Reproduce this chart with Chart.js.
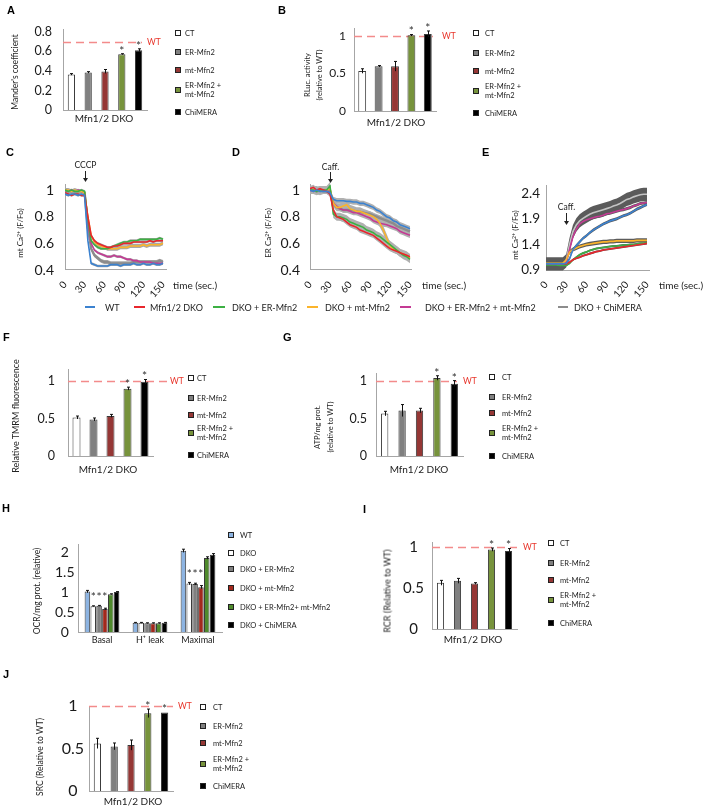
<!DOCTYPE html>
<html>
<head>
<meta charset="utf-8">
<script src="https://cdn.jsdelivr.net/npm/chart.js@4.4.1/dist/chart.umd.min.js"></script>
<style>
  body { margin: 0; background: #fff; }
  #fig { position: relative; width: 709px; height: 808px; overflow: hidden; font-family: Lato, "Liberation Sans", Arial, sans-serif; color: #222; }
  #fig canvas { position: absolute; left: 0; top: 0; }
  .t { position: absolute; white-space: nowrap; line-height: 1; }
  .l { transform: translate(0, -50%); }
  .c { transform: translate(-50%, -50%); text-align: center; }
  .r { transform: translate(-50%, -50%) rotate(-90deg); text-align: center; }
  .letter { font-family: "Liberation Sans", Arial, sans-serif; font-weight: bold; font-size: 11px; color: #000; }
  .box { position: absolute; width: 4px; height: 4px; border: 1px solid #222; }
  .seg { position: absolute; height: 2px; }
  sup { font-size: 0.65em; vertical-align: 0.45em; line-height: 0; }
</style>
</head>
<body>
<div id="fig"></div>
<script>
// ---- bar panels (A, B, F, G, I, J) ----
const barGroups = ['CT', 'ER-Mfn2', 'mt-Mfn2', 'ER-Mfn2 + mt-Mfn2', 'ChiMERA'];
const barColors = ['#ffffff', '#808080', '#953735', '#77933c', '#000000'];

const valsA = [0.365, 0.385, 0.395, 0.572, 0.612];
const errA = [0.008, 0.008, 0.02, 0.005, 0.015];
const starsA = ['', '', '', '*', '*'];
const ticksA = [0, 0.2, 0.4, 0.6, 0.8];
const wtA = 0.7;

const valsB = [0.533, 0.596, 0.596, 1.009, 1.027];
const errB = [0.03, 0.01, 0.065, 0.01, 0.04];
const starsB = ['', '', '', '*', '*'];
const ticksB = [0, 0.5, 1];

const valsF = [0.513, 0.487, 0.535, 0.898, 0.99];
const errF = [0.02, 0.02, 0.02, 0.02, 0.03];
const starsF = ['', '', '', '*', '*'];
const ticksF = [0, 0.5, 1];

const valsG = [0.566, 0.606, 0.606, 1.04, 0.965];
const errG = [0.03, 0.08, 0.03, 0.03, 0.04];
const starsG = ['', '', '', '*', '*'];
const ticksG = [0, 0.5, 1];

const valsI = [0.563, 0.587, 0.555, 0.968, 0.951];
const errI = [0.03, 0.03, 0.01, 0.02, 0.03];
const starsI = ['', '', '', '*', '*'];
const ticksI = [0, 0.5, 1];

const valsJ = [0.56, 0.525, 0.54, 0.914, 0.925];
const errJ = [0.06, 0.04, 0.06, 0.05, 0.0];
const starsJ = ['', '', '', '*', '*'];
const ticksJ = [0, 0.5, 1];

// ---- H: OCR grouped bars ----
const groupsH = ['Basal', 'H\u207A leak', 'Maximal'];
const seriesH = ['WT', 'DKO', 'DKO + ER-Mfn2', 'DKO + mt-Mfn2', 'DKO + ER-Mfn2+ mt-Mfn2', 'DKO + ChiMERA'];
const colorsH = ['#8db4e2', '#ffffff', '#808080', '#a3281c', '#4f8a2c', '#000000'];
const wtH = [1.01, 0.23, 2.03];
const dkoH = [0.645, 0.23, 1.21];
const erH = [0.655, 0.22, 1.2];
const mtH = [0.575, 0.22, 1.12];
const bothH = [0.945, 0.22, 1.85];
const chiH = [1.0, 0.23, 1.93];
const errH = [[0.03, 0.01, 0.04], [0.01, 0.01, 0.03], [0.01, 0.01, 0.02], [0.02, 0.01, 0.04], [0.01, 0.01, 0.03], [0.01, 0.01, 0.03]];
const starsH = ['*', '', '*'];
const ticksH = [0, 0.5, 1, 1.5, 2];

// ---- C, D, E: time courses ----
const times = [0, 5, 10, 15, 20, 25, 30, 35, 40, 45, 50, 55, 60, 65, 70, 75, 80, 85, 90, 95, 100, 105, 110, 115, 120, 125, 130, 135, 140, 145, 150];
const lineSeries = ['WT', 'Mfn1/2 DKO', 'DKO + ER-Mfn2', 'DKO + mt-Mfn2', 'DKO + ER-Mfn2 + mt-Mfn2', 'DKO + ChiMERA'];
const lineColors = ['#3b82d0', '#e8262d', '#3cb043', '#fbb42b', '#c43a94', '#8c8c8c'];
const timeTicks = [0, 30, 60, 90, 120, 150];

const wtC   = [0.97, 0.96, 0.97, 0.97, 0.96, 0.97, 0.96, 0.62, 0.45, 0.44, 0.43, 0.43, 0.43, 0.43, 0.44, 0.44, 0.44, 0.43, 0.44, 0.44, 0.44, 0.45, 0.44, 0.44, 0.45, 0.44, 0.44, 0.45, 0.44, 0.44, 0.45];
const dkoC  = [0.98, 0.97, 0.96, 0.97, 0.97, 0.96, 0.96, 0.8, 0.66, 0.62, 0.6, 0.59, 0.58, 0.57, 0.57, 0.58, 0.58, 0.59, 0.6, 0.6, 0.6, 0.61, 0.61, 0.61, 0.61, 0.61, 0.62, 0.61, 0.62, 0.62, 0.62];
const erC   = [1.0, 0.99, 1.0, 0.99, 0.99, 1.0, 0.99, 0.78, 0.62, 0.59, 0.57, 0.56, 0.56, 0.56, 0.57, 0.58, 0.59, 0.6, 0.61, 0.61, 0.62, 0.62, 0.62, 0.63, 0.63, 0.63, 0.63, 0.63, 0.63, 0.64, 0.63];
const mtC   = [1.0, 1.0, 0.99, 1.0, 0.99, 0.99, 0.98, 0.8, 0.66, 0.61, 0.59, 0.58, 0.57, 0.56, 0.56, 0.56, 0.56, 0.57, 0.57, 0.57, 0.58, 0.58, 0.58, 0.58, 0.59, 0.58, 0.59, 0.59, 0.59, 0.59, 0.6];
const bothC = [1.0, 0.99, 1.0, 0.99, 1.0, 0.99, 0.98, 0.75, 0.6, 0.55, 0.53, 0.52, 0.51, 0.5, 0.5, 0.51, 0.5, 0.5, 0.49, 0.48, 0.48, 0.47, 0.47, 0.46, 0.46, 0.46, 0.46, 0.45, 0.45, 0.45, 0.45];
const chiC  = [0.99, 0.99, 0.99, 0.99, 0.99, 0.99, 0.98, 0.72, 0.56, 0.51, 0.49, 0.47, 0.46, 0.46, 0.45, 0.45, 0.45, 0.45, 0.45, 0.45, 0.45, 0.46, 0.46, 0.46, 0.46, 0.46, 0.46, 0.46, 0.46, 0.47, 0.46];
const semC  = [0.01, 0.01, 0.01, 0.015, 0.01, 0.015];

const wtD   = [1.0, 0.99, 1.0, 0.99, 0.99, 0.99, 0.98, 0.93, 0.92, 0.92, 0.92, 0.915, 0.915, 0.91, 0.91, 0.9, 0.9, 0.89, 0.88, 0.87, 0.85, 0.84, 0.82, 0.8, 0.79, 0.77, 0.76, 0.74, 0.73, 0.72, 0.71];
const dkoD  = [1.01, 1.02, 1.0, 1.01, 1.0, 0.99, 0.97, 0.85, 0.8, 0.79, 0.78, 0.76, 0.74, 0.73, 0.72, 0.7, 0.69, 0.68, 0.67, 0.66, 0.64, 0.62, 0.6, 0.58, 0.56, 0.55, 0.54, 0.53, 0.52, 0.51, 0.5];
const erD   = [1.0, 1.0, 0.99, 1.0, 1.0, 1.0, 1.03, 0.82, 0.8, 0.8, 0.79, 0.78, 0.76, 0.75, 0.74, 0.73, 0.72, 0.7, 0.69, 0.68, 0.66, 0.65, 0.63, 0.61, 0.59, 0.57, 0.55, 0.53, 0.51, 0.5, 0.48];
const mtD   = [1.0, 1.0, 1.0, 0.99, 1.0, 1.0, 1.01, 0.9, 0.87, 0.87, 0.88, 0.89, 0.86, 0.85, 0.84, 0.84, 0.83, 0.82, 0.81, 0.8, 0.78, 0.75, 0.7, 0.64, 0.58, 0.56, 0.55, 0.53, 0.52, 0.51, 0.49];
const bothD = [1.0, 0.99, 1.0, 0.99, 1.0, 0.99, 0.99, 0.9, 0.88, 0.86, 0.85, 0.85, 0.84, 0.83, 0.83, 0.82, 0.81, 0.8, 0.79, 0.77, 0.76, 0.75, 0.745, 0.74, 0.73, 0.72, 0.71, 0.69, 0.68, 0.67, 0.66];
const chiD  = [1.0, 1.0, 0.99, 1.0, 0.99, 0.99, 0.99, 0.9, 0.87, 0.86, 0.85, 0.85, 0.85, 0.845, 0.84, 0.835, 0.83, 0.825, 0.82, 0.81, 0.8, 0.79, 0.78, 0.77, 0.76, 0.75, 0.73, 0.72, 0.71, 0.7, 0.69];
const semD  = [0.02, 0.02, 0.03, 0.03, 0.02, 0.02];

const wtE   = [1.02, 1.02, 1.02, 1.02, 1.02, 1.02, 1.03, 1.12, 1.3, 1.38, 1.45, 1.52, 1.57, 1.63, 1.68, 1.72, 1.76, 1.8, 1.83, 1.86, 1.88, 1.9, 1.93, 1.96, 1.98, 2.01, 2.05, 2.09, 2.12, 2.15, 2.18];
const dkoE  = [1.02, 1.02, 1.02, 1.02, 1.02, 1.02, 1.02, 1.05, 1.1, 1.13, 1.15, 1.18, 1.2, 1.22, 1.24, 1.26, 1.27, 1.29, 1.3, 1.31, 1.32, 1.33, 1.34, 1.35, 1.36, 1.37, 1.38, 1.39, 1.4, 1.41, 1.42];
const erE   = [1.0, 1.0, 1.0, 1.0, 0.99, 0.99, 0.99, 1.03, 1.1, 1.15, 1.2, 1.23, 1.25, 1.28, 1.3, 1.32, 1.33, 1.34, 1.35, 1.36, 1.37, 1.37, 1.38, 1.39, 1.39, 1.4, 1.4, 1.41, 1.42, 1.42, 1.43];
const mtE   = [1.03, 1.03, 1.03, 1.03, 1.03, 1.03, 1.1, 1.25, 1.3, 1.33, 1.36, 1.38, 1.4, 1.41, 1.42, 1.43, 1.44, 1.45, 1.45, 1.46, 1.46, 1.47, 1.47, 1.47, 1.47, 1.47, 1.47, 1.48, 1.48, 1.48, 1.48];
const bothE = [1.02, 1.02, 1.02, 1.02, 1.02, 1.02, 1.05, 1.3, 1.55, 1.7, 1.8, 1.85, 1.88, 1.9, 1.92, 1.94, 1.95, 1.97, 2.0, 2.01, 2.03, 2.05, 2.07, 2.08, 2.1, 2.12, 2.15, 2.17, 2.2, 2.21, 2.22];
const chiE  = [1.02, 1.02, 1.02, 1.02, 1.02, 1.02, 1.08, 1.4, 1.65, 1.78, 1.86, 1.91, 1.95, 1.99, 2.02, 2.04, 2.06, 2.08, 2.1, 2.12, 2.15, 2.17, 2.2, 2.24, 2.28, 2.3, 2.33, 2.35, 2.37, 2.38, 2.38];
const semE  = [0.03, 0.02, 0.02, 0.04, 0.03, 0.13];

// ---------------------------------------------------------------
const W = 709, H = 808;
const AX = '#a6a6a6';
const FONT = 'Lato, "Liberation Sans", Arial, sans-serif';
Chart.defaults.font.family = FONT;
const fig = document.getElementById('fig');

function addCanvas() {
    const c = document.createElement('canvas');
    c.width = W; c.height = H;
    fig.appendChild(c);
    return c;
}

// every canvas covers the whole figure, padding puts the plot area in place
function pad(box, yw, xh) {
    return { left: box.l - yw, top: box.t, right: W - box.r, bottom: H - box.b - xh };
}

function put(html, x, y, cls, css) {
    const d = document.createElement('div');
    d.className = 't ' + (cls || 'l');
    d.innerHTML = html;
    d.style.left = x + 'px';
    d.style.top = y + 'px';
    Object.assign(d.style, css || {});
    fig.appendChild(d);
    return d;
}

// plugins
const wtLine = {
    id: 'wtLine',
    beforeDatasetsDraw(chart, args, o) {
        const ctx = chart.ctx, y = Math.round(chart.scales.y.getPixelForValue(o.value)) + 0.5;
        ctx.save();
        ctx.strokeStyle = '#f38b8b';
        ctx.lineWidth = 1.5;
        ctx.setLineDash([8, 5]);
        ctx.beginPath();
        ctx.moveTo(chart.chartArea.left, y);
        ctx.lineTo(o.end, y);
        ctx.stroke();
        ctx.restore();
    }
};

const errorBars = {
    id: 'errorBars',
    afterDatasetsDraw(chart) {
        const ctx = chart.ctx, ys = chart.scales.y;
        chart.data.datasets.forEach((ds, di) => {
            if (!ds.errs) return;
            const meta = chart.getDatasetMeta(di);
            ctx.save();
            ctx.strokeStyle = '#111';
            ctx.lineWidth = 1;
            meta.data.forEach((bar, i) => {
                const e = ds.errs[i];
                if (!e) return;
                const x = Math.round(bar.x) + 0.5;
                const y1 = ys.getPixelForValue(ds.data[i] + e), y2 = ys.getPixelForValue(ds.data[i] - e);
                ctx.beginPath();
                ctx.moveTo(x, y1); ctx.lineTo(x, y2);
                ctx.moveTo(x - 1.5, y1); ctx.lineTo(x + 1.5, y1);
                ctx.stroke();
            });
            ctx.restore();
        });
    }
};

// stars of one category sit on one row, above the highest starred bar
const starMarks = {
    id: 'starMarks',
    afterDatasetsDraw(chart) {
        const ctx = chart.ctx, ys = chart.scales.y;
        const sets = chart.data.datasets;
        const rowTop = {};
        sets.forEach(ds => {
            if (!ds.stars) return;
            ds.stars.forEach((s, i) => {
                if (!s) return;
                const top = ys.getPixelForValue(ds.data[i] + (ds.errs ? ds.errs[i] : 0));
                rowTop[i] = Math.min(rowTop[i] === undefined ? Infinity : rowTop[i], top);
            });
        });
        ctx.save();
        ctx.fillStyle = '#333';
        ctx.font = '12px ' + FONT;
        ctx.textAlign = 'center';
        ctx.textBaseline = 'middle';
        sets.forEach((ds, di) => {
            if (!ds.stars) return;
            const meta = chart.getDatasetMeta(di);
            meta.data.forEach((bar, i) => {
                if (!ds.stars[i]) return;
                ctx.fillText(ds.stars[i], bar.x, rowTop[i] - ds.starGap);
            });
        });
        ctx.restore();
    }
};

const bands = {
    id: 'bands',
    beforeDatasetsDraw(chart, args, o) {
        const ctx = chart.ctx, xs = chart.scales.x, ys = chart.scales.y, lab = chart.data.labels;
        ctx.save();
        ctx.fillStyle = o.color;
        chart.data.datasets.forEach(ds => {
            ctx.beginPath();
            ds.data.forEach((v, i) => {
                const px = xs.getPixelForValue(lab[i]), py = ys.getPixelForValue(v + ds.sem);
                if (i) ctx.lineTo(px, py); else ctx.moveTo(px, py);
            });
            for (let i = ds.data.length - 1; i >= 0; i--) {
                ctx.lineTo(xs.getPixelForValue(lab[i]), ys.getPixelForValue(ds.data[i] - ds.sem));
            }
            ctx.closePath();
            ctx.fill();
        });
        ctx.restore();
    }
};

const mark = {
    id: 'mark',
    afterDatasetsDraw(chart, args, o) {
        const ctx = chart.ctx, px = Math.round(chart.scales.x.getPixelForValue(o.at)) + 0.5;
        ctx.save();
        ctx.fillStyle = '#222';
        ctx.strokeStyle = '#222';
        ctx.lineWidth = 1;
        ctx.font = '8.5px ' + FONT;
        ctx.textAlign = 'center';
        ctx.textBaseline = 'middle';
        ctx.fillText(o.label, px, o.textY);
        ctx.beginPath();
        ctx.moveTo(px, o.y1);
        ctx.lineTo(px, o.y2 - 3);
        ctx.stroke();
        ctx.beginPath();
        ctx.moveTo(px - 2.5, o.y2 - 4);
        ctx.lineTo(px + 2.5, o.y2 - 4);
        ctx.lineTo(px, o.y2);
        ctx.closePath();
        ctx.fill();
        ctx.restore();
    }
};

const noGrid = { display: false, drawTicks: false };

function yScale(p, yw) {
    return {
        min: p.min || 0, max: p.max,
        grid: noGrid,
        border: { color: AX },
        ticks: {
            color: '#1a1a1a', font: { size: p.tickSize }, padding: p.tickPad,
            crossAlign: p.align || 'near', callback: v => String(v)
        },
        afterBuildTicks: s => { s.ticks = p.ticks.map(v => ({ value: v })); },
        afterFit: s => { s.width = yw; }
    };
}

function barChart(p) {
    const YW = 40, XH = 6;
    return new Chart(addCanvas(), {
        type: 'bar',
        data: {
            labels: barGroups,
            datasets: [{
                data: p.vals, errs: p.errs, stars: p.stars, starGap: 3,
                backgroundColor: barColors, borderColor: '#3a3a3a', borderWidth: 1,
                barPercentage: p.barPct, categoryPercentage: 1
            }]
        },
        options: {
            responsive: false, animation: false, events: [],
            layout: { padding: pad(p.box, YW, XH) },
            plugins: { legend: { display: false }, tooltip: { enabled: false }, wtLine: { value: p.wt, end: p.wtEnd } },
            scales: {
                x: { grid: noGrid, border: { color: AX }, ticks: { display: false }, afterFit: s => { s.height = XH; } },
                y: yScale(p, YW)
            }
        },
        plugins: [wtLine, errorBars, starMarks]
    });
}

function lineChart(p) {
    const YW = 40, XH = 30;
    return new Chart(addCanvas(), {
        type: 'line',
        data: {
            labels: times,
            datasets: p.series.map((s, i) => ({
                data: s, sem: p.sem[i], borderColor: p.colors[i], borderWidth: p.widths[i],
                pointRadius: 0, tension: 0, fill: false
            }))
        },
        options: {
            responsive: false, animation: false, events: [],
            layout: { padding: pad(p.box, YW, XH) },
            plugins: { legend: { display: false }, tooltip: { enabled: false }, bands: { color: p.band }, mark: p.mark },
            scales: {
                x: {
                    type: 'linear', min: 0, max: p.xmax,
                    grid: noGrid, border: { color: AX },
                    ticks: { color: '#1a1a1a', font: { size: 10 }, padding: 9, callback: v => String(v) },
                    afterBuildTicks: s => { s.ticks = timeTicks.map(v => ({ value: v })); },
                    afterFit: s => { s.height = XH; }
                },
                y: yScale(p, YW)
            }
        },
        plugins: [bands, mark]
    });
}

// ---- panels ----
barChart({ vals: valsA, errs: errA, stars: starsA, ticks: ticksA, max: 0.83, wt: wtA, wtEnd: 142,
    box: { l: 63, r: 147, t: 29, b: 110 }, barPct: 0.43, tickSize: 12.5, tickPad: 11 });
barChart({ vals: valsB, errs: errB, stars: starsB, ticks: ticksB, max: 1.1, wt: 1, wtEnd: 433,
    box: { l: 354, r: 436, t: 28.5, b: 111 }, barPct: 0.48, tickSize: 12, tickPad: 8 });
barChart({ vals: valsF, errs: errF, stars: starsF, ticks: ticksF, max: 1.15, wt: 1, wtEnd: 167,
    box: { l: 68, r: 153, t: 369.75, b: 456 }, barPct: 0.47, tickSize: 12.5, tickPad: 13 });
barChart({ vals: valsG, errs: errG, stars: starsG, ticks: ticksG, max: 1.1, wt: 1, wtEnd: 457,
    box: { l: 376, r: 463, t: 373.5, b: 456 }, barPct: 0.42, tickSize: 12.5, tickPad: 9 });
barChart({ vals: valsI, errs: errI, stars: starsI, ticks: ticksI, max: 1.05, wt: 1, wtEnd: 517,
    box: { l: 432, r: 517, t: 542.9, b: 629 }, barPct: 0.42, tickSize: 15, tickPad: 8, align: 'center' });
barChart({ vals: valsJ, errs: errJ, stars: starsJ, ticks: ticksJ, max: 1.0, wt: 1, wtEnd: 173,
    box: { l: 89, r: 173, t: 706, b: 791 }, barPct: 0.43, tickSize: 16, tickPad: 5, align: 'center' });

// H grouped
(function () {
    const YW = 40, XH = 22;
    const box = { l: 78, r: 222, t: 544.8, b: 632 };
    const vals = [wtH, dkoH, erH, mtH, bothH, chiH];
    new Chart(addCanvas(), {
        type: 'bar',
        data: {
            labels: groupsH,
            datasets: vals.map((v, i) => ({
                label: seriesH[i], data: v, errs: errH[i],
                stars: (i >= 1 && i <= 3) ? starsH : null, starGap: 8,
                backgroundColor: colorsH[i], borderColor: '#3a3a3a', borderWidth: 1,
                barPercentage: 0.95, categoryPercentage: 0.73
            }))
        },
        options: {
            responsive: false, animation: false, events: [],
            layout: { padding: pad(box, YW, XH) },
            plugins: { legend: { display: false }, tooltip: { enabled: false } },
            scales: {
                x: { grid: noGrid, border: { color: AX },
                     ticks: { color: '#1a1a1a', font: { size: 9 }, padding: 3, maxRotation: 0, autoSkip: false },
                     afterFit: s => { s.height = XH; } },
                y: yScale({ ticks: ticksH, max: 2.18, tickSize: 14, tickPad: 3.5, align: 'center' }, YW)
            }
        },
        plugins: [errorBars, starMarks]
    });
})();

const lineWidthsCD = [1.6, 1.6, 1.6, 1.6, 1.6, 2.4];
lineChart({ series: [wtC, dkoC, erC, mtC, bothC, chiC], sem: semC, colors: lineColors, widths: lineWidthsCD,
    band: '#a8a8a8', box: { l: 65, r: 166.3, t: 184.7, b: 270 }, xmax: 155, min: 0.4, max: 1.04,
    ticks: [0.4, 0.6, 0.8, 1], tickSize: 14, tickPad: 11,
    mark: { at: 30, label: 'CCCP', textY: 165, y1: 171, y2: 182 } });
lineChart({ series: [wtD, dkoD, erD, mtD, bothD, chiD], sem: semD, colors: lineColors, widths: lineWidthsCD,
    band: '#b0b0b0', box: { l: 310, r: 411.3, t: 184.7, b: 270 }, xmax: 152, min: 0.4, max: 1.04,
    ticks: [0.4, 0.6, 0.8, 1], tickSize: 14, tickPad: 10,
    mark: { at: 30, label: 'Caff.', textY: 167, y1: 172, y2: 183 } });
lineChart({ series: [wtE, dkoE, erE, mtE, bothE, chiE], sem: semE,
    colors: ['#3b82d0', '#e8262d', '#3cb043', '#fbb42b', '#c43a94', '#c4c4c4'], widths: [1.6, 1.6, 1.6, 1.6, 1.6, 1.6],
    band: '#5b5b5b', box: { l: 546, r: 649, t: 185.1, b: 270 }, xmax: 153, min: 0.9, max: 2.56,
    ticks: [0.9, 1.4, 1.9, 2.4], tickSize: 13.5, tickPad: 6,
    mark: { at: 30, label: 'Caff.', textY: 207, y1: 213, y2: 225 } });

// ---- text: letters, titles, legends ----
[['A', 7, 9.5], ['B', 278, 9.5], ['C', 6, 152], ['D', 232, 152], ['E', 482, 152],
 ['F', 3, 336.5], ['G', 283, 336.5], ['H', 2, 507.5], ['I', 363, 509], ['J', 3, 673.5]]
    .forEach(([s, x, y]) => put(s, x, y, 'l letter'));

put("Mander's coefficient", 15, 72, 'r', { fontSize: '8.5px' });
put('RLuc. activity<br>(relative to WT)', 314, 75, 'r', { fontSize: '7.5px', lineHeight: '12px' });
put('mt Ca<sup>2+</sup> (F/Fo)', 20, 233, 'r', { fontSize: '8px' });
put('ER Ca<sup>2+</sup> (F/Fo)', 268, 233, 'r', { fontSize: '8px' });
put('mt Ca<sup>2+</sup> (F/Fo)', 515, 235, 'r', { fontSize: '8px' });
put('Relative TMRM fluorescence', 15, 416, 'r', { fontSize: '9px' });
put('ATP/mg prot.<br>(relative to WT)', 324, 427, 'r', { fontSize: '7.5px', lineHeight: '13px' });
put('OCR/mg prot. (relative)', 37, 591, 'r', { fontSize: '8.5px' });
put('RCR (Relative to WT)', 387, 591, 'r', { fontSize: '9px' });
put('SRC (Relative to WT)', 40, 757, 'r', { fontSize: '8.5px' });

[[104, 118], [396, 122], [108, 469], [419, 469], [473, 639], [133, 801]]
    .forEach(([x, y]) => put('Mfn1/2 DKO', x, y, 'c', { fontSize: '10px' }));
[[173, 285], [422, 285], [659, 285]]
    .forEach(([x, y]) => put('time (sec.)', x, y, 'l', { fontSize: '10px' }));
[[147, 41.5], [442, 36], [170, 381], [463, 381], [523, 547], [178, 706]]
    .forEach(([x, y]) => put('WT', x, y, 'l', { fontSize: '8.5px', color: '#e8352b' }));

function barLegend(bx, tx, ys, colors, labels, wrap) {
    labels.forEach((lab, i) => {
        const b = document.createElement('div');
        b.className = 'box';
        b.style.left = bx + 'px';
        b.style.top = (ys[i] - 3) + 'px';
        b.style.background = colors[i];
        fig.appendChild(b);
        put(wrap ? lab.replace(' + ', ' +<br>') : lab, tx, ys[i], 'l', { fontSize: '7.5px', lineHeight: '9px' });
    });
}
barLegend(175, 185, [33, 52, 70, 90, 112], barColors, barGroups, true);
barLegend(473, 485, [33, 53, 71, 91, 113], barColors, barGroups, true);
barLegend(188, 197, [378, 398, 415, 433, 455], barColors, barGroups, true);
barLegend(489, 502, [377, 397, 413, 433, 456], barColors, barGroups, true);
barLegend(548, 560, [543, 563, 580, 600, 623], barColors, barGroups, true);
barLegend(200, 213, [707, 726, 743, 764, 786], barColors, barGroups, true);
barLegend(228, 240, [535, 553, 569, 588, 607, 625], colorsH, seriesH, false);

// line legend row
const legRow = [[85, 95, 105], [134, 145, 150], [213, 225, 232], [307, 318, 325], [400, 411, 425], [558, 568, 574]];
lineSeries.forEach((lab, i) => {
    const [x1, x2, tx] = legRow[i];
    const s = document.createElement('div');
    s.className = 'seg';
    s.style.left = x1 + 'px';
    s.style.width = (x2 - x1) + 'px';
    s.style.top = '306px';
    s.style.background = lineColors[i];
    fig.appendChild(s);
    put(lab, tx, 307, 'l', { fontSize: '9px' });
});
</script>
</body>
</html>
